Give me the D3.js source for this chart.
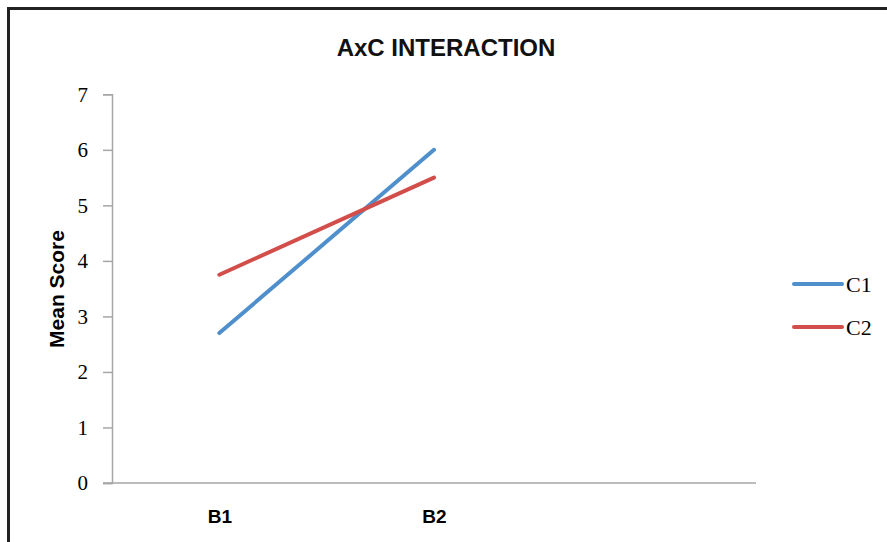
<!DOCTYPE html>
<html><head><meta charset="utf-8">
<script src="https://cdn.jsdelivr.net/npm/d3@7"></script>
<style>body{margin:0;background:#fff}svg{display:block}</style>
</head><body>
<script>
const categories = ["B1", "B2", ""];
const seriesNames = ["C1", "C2"];
const c1Values = [2.7, 6.0];
const c2Values = [3.75, 5.5];
const yTicks = [0, 1, 2, 3, 4, 5, 6, 7];
const colors = ["#4F8FCC", "#D24E4A"];

const W = 887, H = 542;
const svg = d3.select("body").append("svg").attr("width", W).attr("height", H);

svg.append("rect").attr("x", 8.5).attr("y", 8.5).attr("width", 900).attr("height", 600)
  .attr("fill", "#fff").attr("stroke", "#222").attr("stroke-width", 3);

const x = d3.scalePoint().domain(categories).range([112, 756]).padding(0.5);
const y = d3.scaleLinear().domain([0, 7]).range([483, 94.3]);

// Axes
const yAxis = svg.append("g").attr("transform", "translate(112,0)")
  .call(d3.axisLeft(y).tickValues(yTicks).tickSize(9).tickPadding(15).tickFormat(d3.format("d")));
yAxis.select(".domain").attr("stroke", "#a6a6a6").attr("stroke-width", 1.5);
yAxis.selectAll(".tick line").attr("stroke", "#a6a6a6").attr("stroke-width", 1.5);
yAxis.selectAll(".tick text").attr("font-family", "Liberation Serif, serif").attr("font-size", 21).attr("fill", "#000");

const xAxis = svg.append("g").attr("transform", "translate(0,483)")
  .call(d3.axisBottom(x).tickSize(0).tickPadding(27));
xAxis.select(".domain").attr("stroke", "#a6a6a6").attr("stroke-width", 1.5).attr("d", "M103,0H756");
xAxis.selectAll(".tick text").attr("font-family", "Liberation Sans Narrow, Arial Narrow, sans-serif")
  .attr("font-size", 19).attr("font-weight", "bold").attr("fill", "#000");

// Lines
const data = [c1Values, c2Values];
const line = d3.line().x((d, i) => x(categories[i])).y(d => y(d));
data.forEach((vals, k) => {
  svg.append("path").datum(vals).attr("d", line).attr("fill", "none")
    .attr("stroke", colors[k]).attr("stroke-width", 4).attr("stroke-linecap", "round");
});

// Title
svg.append("text").attr("x", 446).attr("y", 56).attr("text-anchor", "middle")
  .attr("font-family", "Liberation Sans Narrow, Arial Narrow, sans-serif").attr("font-size", 24)
  .attr("font-weight", "bold").attr("fill", "#111").text("AxC INTERACTION");

// Y label
svg.append("text").attr("transform", "translate(64,289) rotate(-90)").attr("text-anchor", "middle")
  .attr("font-family", "Liberation Sans Narrow, Arial Narrow, sans-serif").attr("font-size", 21)
  .attr("font-weight", "bold").attr("fill", "#000").text("Mean Score");

// Legend
const lg = svg.append("g");
seriesNames.forEach((name, k) => {
  const ly = 284 + k * 43;
  lg.append("line").attr("x1", 794).attr("x2", 842).attr("y1", ly).attr("y2", ly)
    .attr("stroke", colors[k]).attr("stroke-width", 4).attr("stroke-linecap", "round");
  lg.append("text").attr("x", 846).attr("y", ly + 8).attr("font-family", "Liberation Serif, serif")
    .attr("font-size", 22).attr("fill", "#000").text(name);
});
</script>
</body></html>
